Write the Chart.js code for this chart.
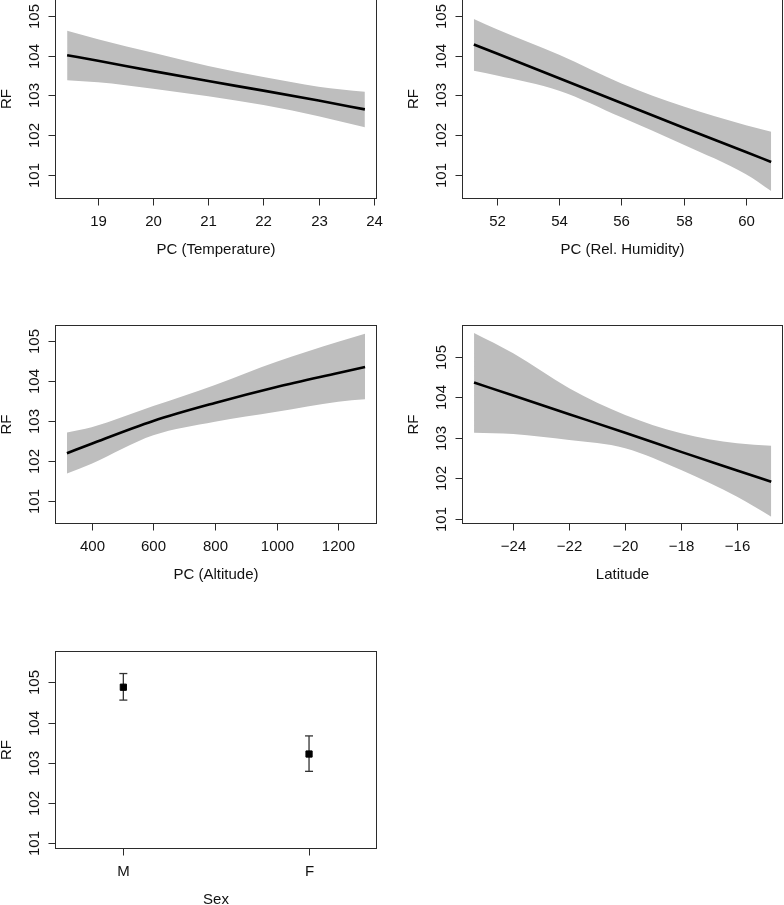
<!DOCTYPE html>
<html>
<head>
<meta charset="utf-8">
<script src="https://cdn.jsdelivr.net/npm/chart.js@4.4.1/dist/chart.umd.min.js"></script>
<style>
html,body{margin:0;padding:0;background:#fff;width:784px;height:905px;overflow:hidden;position:relative}
canvas{position:absolute;display:block}
</style>
</head>
<body>
<canvas id="c1"></canvas>
<canvas id="c2"></canvas>
<canvas id="c3"></canvas>
<canvas id="c4"></canvas>
<canvas id="c5"></canvas>
<script>
// ---------- DATA ----------
const rfTicks = [101, 102, 103, 104, 105];

// Panel 1: PC (Temperature)
const tempX     = [18.44, 19, 20, 21, 22, 23, 23.84];
const tempFit   = [104.01, 103.87, 103.61, 103.36, 103.12, 102.87, 102.65];
const tempUpper = [104.62, 104.41, 104.07, 103.74, 103.46, 103.22, 103.09];
const tempLower = [103.38, 103.33, 103.17, 102.98, 102.76, 102.48, 102.20];
const tempTicks = [19, 20, 21, 22, 23, 24];

// Panel 2: PC (Rel. Humidity)
const humX     = [51.26, 52, 54, 56, 58, 60, 60.81];
const humFit   = [104.28, 104.05, 103.43, 102.81, 102.19, 101.58, 101.33];
const humUpper = [104.92, 104.66, 104.02, 103.30, 102.72, 102.25, 102.09];
const humLower = [103.62, 103.50, 103.12, 102.45, 101.76, 101.02, 100.60];
const humTicks = [52, 54, 56, 58, 60];

// Panel 3: PC (Altitude)
const altX     = [320, 400, 600, 800, 1000, 1200, 1287];
const altFit   = [102.19, 102.43, 103.00, 103.45, 103.85, 104.20, 104.35];
const altUpper = [102.71, 102.84, 103.37, 103.90, 104.48, 104.98, 105.18];
const altLower = [101.68, 101.93, 102.64, 102.98, 103.23, 103.48, 103.54];
const altTicks = [400, 600, 800, 1000, 1200];

// Panel 4: Latitude
const latX     = [-25.4, -24, -22, -20, -18, -16, -14.78];
const latFit   = [104.36, 104.04, 103.58, 103.12, 102.65, 102.19, 101.91];
const latUpper = [105.58, 105.08, 104.22, 103.56, 103.11, 102.86, 102.80];
const latLower = [103.12, 103.09, 102.94, 102.74, 102.20, 101.54, 101.05];
const latTicks = [-24, -22, -20, -18, -16];

// Panel 5: Sex
const sexCats  = ['M', 'F'];
const sexMean  = [104.88, 103.22];
const sexUpper = [105.22, 103.67];
const sexLower = [104.56, 102.79];

// ---------- HELPERS ----------
const FONT = '15px "Liberation Sans", Arial, Helvetica, sans-serif';
function fmt(v){ return v < 0 ? '\u2212' + Math.abs(v) : String(v); }
function pts(xs, ys){ return xs.map((x, i) => ({x: x, y: ys[i]})); }

const rAxes = {
  id: 'rAxes',
  afterDraw(chart, args, o) {
    const ctx = chart.ctx, a = chart.chartArea, xs = chart.scales.x, ys = chart.scales.y;
    ctx.save();
    ctx.strokeStyle = '#2b2b2b';
    ctx.lineWidth = 1;
    const L = Math.round(a.left) + 0.5, R = Math.round(a.right) - 0.5;
    const T = Math.round(a.top) + 0.5, B = Math.round(a.bottom) - 0.5;
    ctx.strokeRect(L, T, R - L, B - T);
    ctx.fillStyle = '#111';
    ctx.font = FONT;
    ctx.textAlign = 'center';
    ctx.textBaseline = 'middle';
    o.xTicks.forEach((t, i) => {
      const px = Math.round(xs.getPixelForValue(t)) + 0.5;
      ctx.beginPath(); ctx.moveTo(px, B); ctx.lineTo(px, B + 7); ctx.stroke();
      ctx.fillText(o.xLabels ? o.xLabels[i] : fmt(t), px, B + 23);
    });
    o.yTicks.forEach(t => {
      const py = Math.round(ys.getPixelForValue(t)) + 0.5;
      ctx.beginPath(); ctx.moveTo(L - 7, py); ctx.lineTo(L, py); ctx.stroke();
      ctx.save(); ctx.translate(L - 21, py); ctx.rotate(-Math.PI / 2);
      ctx.fillText(fmt(t), 0, 0); ctx.restore();
    });
    ctx.fillText(o.xTitle, (a.left + a.right) / 2, B + 51);
    ctx.save(); ctx.translate(L - 49, (a.top + a.bottom) / 2); ctx.rotate(-Math.PI / 2);
    ctx.fillText(o.yTitle, 0, 0); ctx.restore();
    ctx.restore();
  }
};

function makeChart(id, lay, datasets, xr, yr, axOpts) {
  const cv = document.getElementById(id);
  cv.width = lay.w; cv.height = lay.h;
  cv.style.left = lay.x + 'px'; cv.style.top = lay.y + 'px';
  cv.style.width = lay.w + 'px'; cv.style.height = lay.h + 'px';
  return new Chart(cv, {
    type: 'line',
    data: { datasets: datasets },
    options: {
      responsive: false,
      animation: false,
      events: [],
      layout: { padding: lay.pad },
      plugins: { legend: { display: false }, tooltip: { enabled: false }, rAxes: axOpts },
      scales: {
        x: { type: 'linear', display: false, min: xr[0], max: xr[1] },
        y: { type: 'linear', display: false, min: yr[0], max: yr[1] }
      }
    },
    plugins: [rAxes]
  });
}

function bandSets(xs, fit, up, lo) {
  return [
    { data: pts(xs, lo), borderWidth: 0, borderColor: 'rgba(0,0,0,0)', pointRadius: 0,
      fill: false, cubicInterpolationMode: 'monotone', order: 2 },
    { data: pts(xs, up), borderWidth: 0, borderColor: 'rgba(0,0,0,0)', pointRadius: 0,
      backgroundColor: '#bebebe', fill: '-1', cubicInterpolationMode: 'monotone', order: 1 },
    { data: pts(xs, fit), borderWidth: 2.6, borderColor: '#000', pointRadius: 0,
      fill: false, cubicInterpolationMode: 'monotone', order: 0 }
  ];
}

// ---------- PANELS ----------
makeChart('c1', {x: 0, y: -2, w: 392, h: 302, pad: {left: 55, top: 1, right: 15, bottom: 101}},
  bandSets(tempX, tempFit, tempUpper, tempLower), [18.22, 24.06], [100.40, 105.42],
  {xTicks: tempTicks, yTicks: rfTicks, xTitle: 'PC (Temperature)', yTitle: 'RF'});

makeChart('c2', {x: 392, y: -2, w: 392, h: 302, pad: {left: 70, top: 1, right: 1, bottom: 101}},
  bandSets(humX, humFit, humUpper, humLower), [50.88, 61.19], [100.40, 105.42],
  {xTicks: humTicks, yTicks: rfTicks, xTitle: 'PC (Rel. Humidity)', yTitle: 'RF'});

makeChart('c3', {x: 0, y: 300, w: 392, h: 325, pad: {left: 55, top: 25, right: 15, bottom: 101}},
  bandSets(altX, altFit, altUpper, altLower), [281.3, 1325.7], [100.42, 105.40],
  {xTicks: altTicks, yTicks: rfTicks, xTitle: 'PC (Altitude)', yTitle: 'RF'});

makeChart('c4', {x: 392, y: 300, w: 392, h: 325, pad: {left: 70, top: 25, right: 1, bottom: 101}},
  bandSets(latX, latFit, latUpper, latLower), [-25.83, -14.36], [100.87, 105.78],
  {xTicks: latTicks, yTicks: rfTicks, xTitle: 'Latitude', yTitle: 'RF'});

const sexPos = sexCats.map((c, i) => i + 1);
const sexSets = sexCats.map((c, i) => ({
  data: [{x: sexPos[i], y: sexLower[i]}, {x: sexPos[i], y: sexUpper[i]}],
  borderColor: '#333', borderWidth: 1.3, pointStyle: 'line', pointRadius: 4,
  pointBorderColor: '#333', pointBorderWidth: 1.3, fill: false, order: 1
}));
sexSets.push({
  data: pts(sexPos, sexMean), showLine: false, pointStyle: 'rect', pointRadius: 4.4,
  pointBackgroundColor: '#000', pointBorderColor: '#000', pointBorderWidth: 1, order: 0
});
makeChart('c5', {x: 0, y: 625, w: 392, h: 280, pad: {left: 55, top: 26, right: 15, bottom: 56}},
  sexSets, [0.632, 2.366], [100.86, 105.78],
  {xTicks: sexPos, xLabels: sexCats, yTicks: rfTicks, xTitle: 'Sex', yTitle: 'RF'});
</script>
</body>
</html>
